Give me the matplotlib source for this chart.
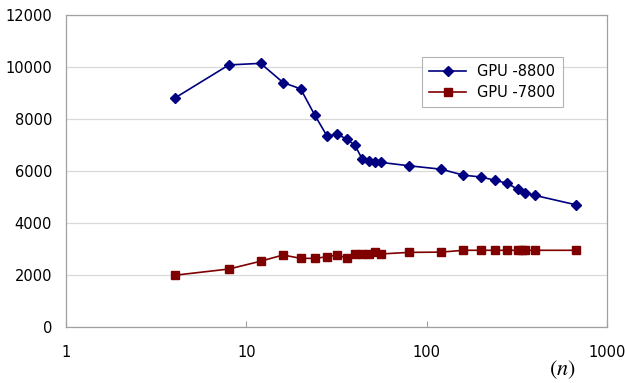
import matplotlib
matplotlib.use("Agg")
import matplotlib.pyplot as plt
from matplotlib.ticker import FixedLocator, NullLocator

plt.rcParams['font.family'] = ['DejaVu Sans']
plt.rcParams['mathtext.fontset'] = 'stix'

n_8800 = [4, 8, 12, 16, 20, 24, 28, 32, 36, 40, 44, 48, 52, 56, 80, 120, 160, 200, 240, 280, 320, 352, 400, 672]
v_8800 = [8800, 10080, 10140, 9400, 9160, 8140, 7350, 7410, 7230, 6990, 6450, 6400, 6330, 6330,
          6200, 6070, 5840, 5770, 5640, 5530, 5290, 5170, 5060, 4700]

n_7800 = [4, 8, 12, 16, 20, 24, 28, 32, 36, 40, 44, 48, 52, 56, 80, 120, 160, 200, 240, 280, 320, 336, 352, 400, 672]
v_7800 = [1990, 2230, 2530, 2770, 2640, 2640, 2700, 2770, 2650, 2810, 2810, 2810, 2880, 2810,
          2870, 2880, 2950, 2950, 2950, 2950, 2950, 2950, 2950, 2950, 2950]

labels = ["GPU -8800", "GPU -7800"]
y_ticks = [0, 2000, 4000, 6000, 8000, 10000, 12000]
x_ticks = [1, 10, 100, 1000]
x_tick_labels = ["1", "10", "100", "1000"]

fig = plt.figure(figsize=(6.25, 3.83), dpi=100)
ax = fig.add_axes([66/625, 1-327/383, (607-66)/625, (327-15)/383])

ax.plot(n_8800, v_8800, color='#000080', marker='D', markersize=5, linewidth=1.2, label=labels[0])
ax.plot(n_7800, v_7800, color='#800000', marker='s', markersize=5.5, linewidth=1.2, label=labels[1])

ax.set_xscale('log')
ax.set_xlim(1, 1000)
ax.set_ylim(0, 12000)
ax.xaxis.set_major_locator(FixedLocator(x_ticks))
ax.xaxis.set_minor_locator(NullLocator())
ax.set_xticklabels(x_tick_labels)
ax.set_yticks(y_ticks)
ax.set_yticklabels([str(t) for t in y_ticks])

ax.grid(axis='y', color='#d9d9d9', linewidth=0.9)
ax.set_axisbelow(True)
for s in ax.spines.values():
    s.set_color('#a0a0a0')
    s.set_linewidth(0.9)

ax.tick_params(axis='x', direction='in', length=4, color='#a0a0a0', labelsize=10.5, pad=13)
ax.tick_params(axis='y', length=0, labelsize=10.5, pad=10)

ax.text(562/625, 1-370/383, r'$(n)$', transform=fig.transFigure, ha='center', va='center',
        fontsize=16)

leg = ax.legend(loc='upper left', bbox_to_anchor=((422-66)/541, 1-(57-15)/312), fontsize=10.5,
                frameon=True, fancybox=False, edgecolor='#a0a0a0', handlelength=2.5,
                borderpad=0.5, labelspacing=0.4, borderaxespad=0)
leg.get_frame().set_linewidth(0.8)

fig.savefig('out.png', dpi=100)
